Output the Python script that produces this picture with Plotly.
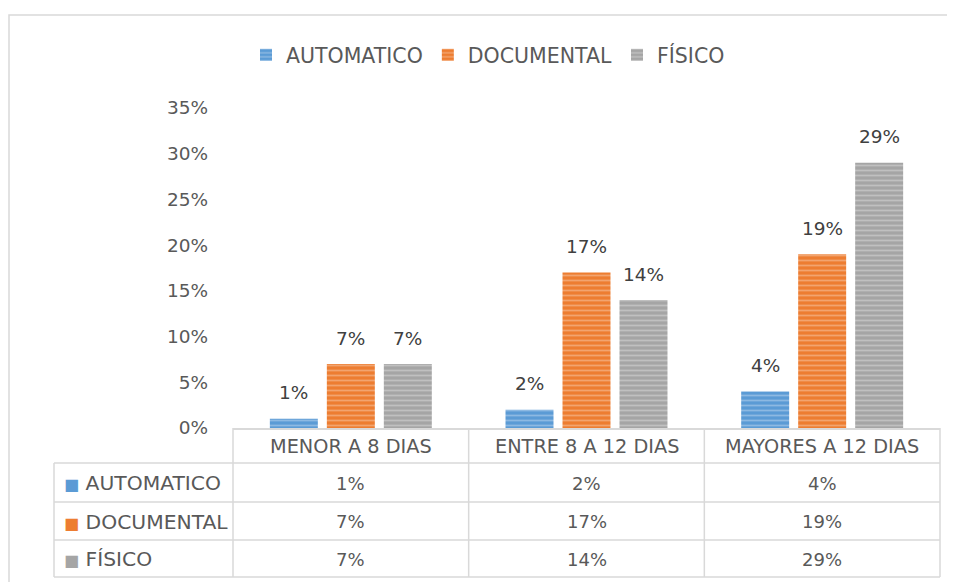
import plotly.graph_objects as go

categories = ["MENOR A 8 DIAS", "ENTRE 8 A 12 DIAS", "MAYORES A 12 DIAS"]
series_names = ["AUTOMATICO", "DOCUMENTAL", "FÍSICO"]
automatico = [0.01, 0.02, 0.04]
documental = [0.07, 0.17, 0.19]
fisico = [0.07, 0.14, 0.29]
y_ticks = [0, 0.05, 0.10, 0.15, 0.20, 0.25, 0.30, 0.35]
y_tick_labels = ["0%", "5%", "10%", "15%", "20%", "25%", "30%", "35%"]

series_values = [automatico, documental, fisico]
colors = ["#5B9BD5", "#ED7D31", "#A5A5A5"]

FONT = "DejaVu Sans"
TXT = "#595959"

# page body has an 8px margin; page coordinates below are converted
OFF = 8
W, H = 955 - OFF, 582 - OFF
PL, PT, PR, PB = 233, 108, 940, 428  # plot area in page pixels

fig = go.Figure()
for name, vals, col in zip(series_names, series_values, colors):
    fig.add_trace(go.Bar(
        x=categories, y=vals, name=name,
        marker=dict(color=col, line=dict(width=0),
                    pattern=dict(shape="-", fgcolor="rgba(255,255,255,0.6)", size=5, solidity=0.35)),
    ))

pw = float(PR - PL)
ph = float(PB - PT)
def px_x(p):
    return (p - PL) / pw
def px_y(p):
    return (PB - p) / ph

annotations = []
slot = 57
for i, (vals, col) in enumerate(zip(series_values, colors)):
    for c, v in zip(categories, vals):
        annotations.append(dict(x=c, xref="x", y=v, yref="y", text=f"{round(v*100)}%",
                                showarrow=False, xshift=(i - 1) * slot, yshift=13.5,
                                xanchor="center", yanchor="bottom",
                                font=dict(family=FONT, size=18.5, color="#404040")))

line_col = "#D9D9D9"
shapes = []
shapes.append(dict(type="rect", xref="paper", yref="paper", x0=px_x(9), x1=px_x(975), y0=px_y(15), y1=px_y(600),
                   line=dict(color=line_col, width=1.5), fillcolor="rgba(0,0,0,0)", layer="below"))
row_lines = [463, 502, 540, 577]
for ry in row_lines:
    shapes.append(dict(type="line", xref="paper", yref="paper", x0=px_x(54), x1=px_x(PR),
                       y0=px_y(ry), y1=px_y(ry), line=dict(color=line_col, width=1.5)))
shapes.append(dict(type="line", xref="paper", yref="paper", x0=px_x(54), x1=px_x(54),
                   y0=px_y(463), y1=px_y(577), line=dict(color=line_col, width=1.5)))
for k in range(len(categories) + 1):
    xv = k / len(categories)
    shapes.append(dict(type="line", xref="paper", yref="paper", x0=xv, x1=xv,
                       y0=px_y(PB), y1=px_y(577), line=dict(color=line_col, width=1.5)))

header_y = px_y(446)
row_centers = [483, 521.5, 559]
for c in categories:
    annotations.append(dict(x=c, xref="x", y=header_y, yref="paper", text=c, showarrow=False,
                            font=dict(family=FONT, size=19.3, color=TXT), xanchor="center", yanchor="middle"))
for name, vals, col, ry in zip(series_names, series_values, colors, row_centers):
    annotations.append(dict(x=px_x(62), xref="paper", y=px_y(ry), yref="paper",
                            text=f"<span style='color:{col};font-size:16px'>■</span> {name}", showarrow=False,
                            font=dict(family=FONT, size=20.3, color=TXT), xanchor="left", yanchor="middle"))
    for c, v in zip(categories, vals):
        annotations.append(dict(x=c, xref="x", y=px_y(ry), yref="paper", text=f"{round(v*100)}%",
                                showarrow=False, font=dict(family=FONT, size=18, color=TXT),
                                xanchor="center", yanchor="middle"))

fig.update_layout(
    width=W, height=H,
    margin=dict(l=PL - OFF, r=W - (PR - OFF), t=PT - OFF, b=H - (PB - OFF)),
    paper_bgcolor="white", plot_bgcolor="white",
    barmode="group", bargap=0.2745, bargroupgap=0.158,
    font=dict(family=FONT, color=TXT),
    showlegend=True,
    legend=dict(orientation="h", x=px_x(488), xanchor="center", y=px_y(55), yanchor="middle",
                font=dict(family=FONT, size=20.5, color=TXT), itemwidth=30,
                bgcolor="rgba(0,0,0,0)"),
    xaxis=dict(showticklabels=False, showgrid=False, zeroline=False, showline=True,
               linecolor=line_col, linewidth=1.5, ticks=""),
    yaxis=dict(range=[0, 0.35], tickvals=y_ticks, ticktext=y_tick_labels, showgrid=False,
               zeroline=False, showline=False, ticks="", ticklabelstandoff=24,
               tickfont=dict(family=FONT, size=18.5, color=TXT)),
    shapes=shapes, annotations=annotations,
)

fig.write_html("out.html")
